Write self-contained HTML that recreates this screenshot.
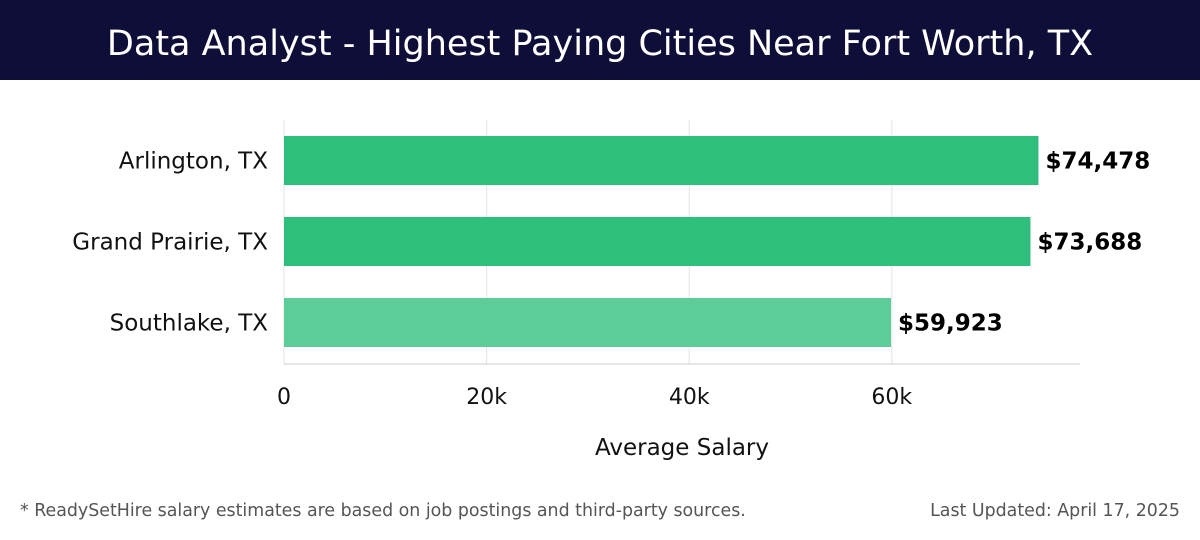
<!DOCTYPE html>
<html><head><meta charset="utf-8"><style>
body{margin:0;width:1200px;height:540px;background:#fff;font-family:"DejaVu Sans","Liberation Sans",sans-serif;overflow:hidden;position:relative}
#hdr{position:absolute;left:0;top:0;width:1200px;height:80px;background:#0e0e38;color:#fff;font-size:35px;text-align:center;line-height:88px}
.foot{position:absolute;top:501px;font-size:17.4px;color:#555}
</style></head><body>
<div id="hdr">Data Analyst - Highest Paying Cities Near Fort Worth, TX</div>
<svg id="chart" width="1200" height="460" style="position:absolute;left:0;top:80px;font-family:'DejaVu Sans',sans-serif"></svg>
<div class="foot" style="left:20px">* ReadySetHire salary estimates are based on job postings and third-party sources.</div>
<div class="foot" style="right:20px">Last Updated: April 17, 2025</div>
<script>
const cities=["Arlington, TX","Grand Prairie, TX","Southlake, TX"];
const salaries=[74478,73688,59923];
const labels=["$74,478","$73,688","$59,923"];
const ticks=[0,20000,40000,60000];
const tickLabels=["0","20k","40k","60k"];
const colors=["#2ebf7c","#2ebf7c","#5ccd98"];
const svg=document.getElementById('chart');const NS="http://www.w3.org/2000/svg";
const x0=284,pxPer=0.01013,top0=40,bandH=81,barH=49;
const x=v=>x0+v*pxPer;const y=i=>top0+i*bandH+16;
function mk(t,a,txt){const e=document.createElementNS(NS,t);for(const k in a)e.setAttribute(k,a[k]);if(txt!==undefined)e.textContent=txt;svg.appendChild(e);return e;}
ticks.forEach((t,i)=>{
const g=mk('line',{x1:x(t),x2:x(t),y1:top0,y2:284,stroke:'#e3e3e3'});


const l=mk('text',{x:x(t),y:324,'text-anchor':'middle','font-size':22,fill:'#111'},tickLabels[i]);


});
const ax=mk('line',{x1:x0,x2:1080,y1:284,y2:284,stroke:'#ccc'});


cities.forEach((c,i)=>{
const r=mk('rect',{x:x0,y:y(i),width:x(salaries[i])-x0,height:barH,fill:colors[i]});


const cl=mk('text',{x:268,y:y(i)+barH/2+8,'text-anchor':'end','font-size':23,fill:'#111'},c);


const vl=mk('text',{x:x(salaries[i])+7,y:y(i)+barH/2+8,'font-size':23,'font-weight':'bold',fill:'#000'},labels[i]);


});
const at=mk('text',{x:682,y:375,'text-anchor':'middle','font-size':23,fill:'#111'},'Average Salary');


</script>
</body></html>
